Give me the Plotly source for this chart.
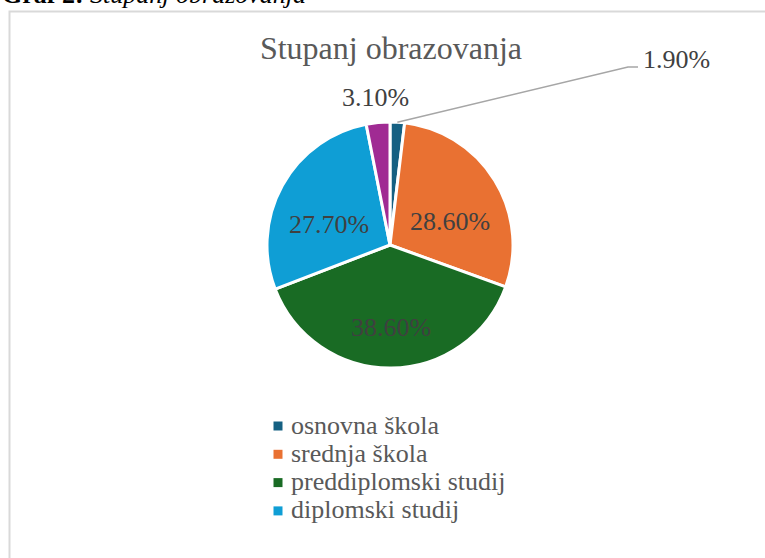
import math
import plotly.graph_objects as go

# ---- data ----
categories = ["osnovna škola", "srednja škola", "preddiplomski studij",
              "diplomski studij", "poslijediplomski studij"]
values = [1.9, 28.6, 38.6, 27.7, 3.1]
colors = ["#156082", "#E97132", "#196B24", "#0F9ED5", "#A02B93"]
legend_categories = categories[:4]          # only four appear in the legend
inside_labelled = [1, 2, 3]                 # slices labelled inside
title_text = "Stupanj obrazovanja"
caption_text = "<b>Graf 2:</b> <i>Stupanj obrazovanja</i>"

# ---- layout geometry (pixels) ----
W, H = 765, 558
cx, cy, R = 390, 245, 123


def px(x):
    return x / W


def py(y):
    return 1 - y / H


FONT = "Liberation Serif, Times New Roman, serif"
LABEL_FONT = dict(family=FONT, size=26, color="#404040")

fig = go.Figure()
fig.add_trace(go.Pie(
    labels=categories, values=values, sort=False, direction="clockwise",
    rotation=0,
    marker=dict(colors=colors, line=dict(color="white", width=3)),
    textinfo="none",
    domain=dict(x=[px(cx - R), px(cx + R)], y=[py(cy + R), py(cy - R)]),
    showlegend=False, hoverinfo="label+value",
))

total = sum(values)


def slice_mid_angle(idx):
    start = sum(values[:idx]) / total
    return 2 * math.pi * (start + values[idx] / 2 / total)


def label(idx, r, dy=0.0, **kw):
    th = slice_mid_angle(idx)
    fig.add_annotation(
        x=px(cx + r * math.sin(th)), y=py(cy - r * math.cos(th) + dy),
        xref="paper", yref="paper", xanchor="center", yanchor="middle",
        showarrow=False, text=f"{values[idx]:.2f}%", font=LABEL_FONT, **kw)


# inside labels
for idx in inside_labelled:
    label(idx, 70, dy=13)

# outside label for the last (purple) slice
label(4, R + 25)

# leader line + label for the smallest slice (osnovna škola)
theta = slice_mid_angle(0)
tip_x = cx + R * math.sin(theta)
tip_y = cy - R * math.cos(theta)
elbow_x, elbow_y, end_x = 628, 67, 638
fig.add_shape(
    type="path", xref="paper", yref="paper",
    path=f"M {px(tip_x)} {py(tip_y)} L {px(elbow_x)} {py(elbow_y)} L {px(end_x)} {py(elbow_y)}",
    line=dict(color="#A6A6A6", width=1.5),
)
fig.add_annotation(
    x=px(end_x + 3), y=py(59), xref="paper", yref="paper",
    xanchor="left", yanchor="middle", showarrow=False,
    text=f"{values[0]:.2f}%", font=LABEL_FONT,
)

# legend (four entries), drawn as square swatches + texts
leg_x, leg_y0, leg_dy, sw = 278, 426, 28.3, 9
for k, cat in enumerate(legend_categories):
    i = categories.index(cat)
    yc = leg_y0 + k * leg_dy
    fig.add_shape(
        type="rect", xref="paper", yref="paper",
        x0=px(leg_x - sw / 2), x1=px(leg_x + sw / 2),
        y0=py(yc + sw / 2), y1=py(yc - sw / 2),
        fillcolor=colors[i], line=dict(width=0),
    )
    fig.add_annotation(
        x=px(leg_x + 11), y=py(yc - 1), xref="paper", yref="paper",
        xanchor="left", yanchor="middle", showarrow=False, text=cat,
        font=dict(family=FONT, size=26, color="#595959"),
    )

# chart border
fig.add_shape(
    type="rect", xref="paper", yref="paper",
    x0=px(9.5), x1=1.05, y0=-0.05, y1=py(11.5),
    line=dict(color="#D9D9D9", width=2),
)

# document caption (cut at top)
fig.add_annotation(
    x=px(0), y=py(-6), xref="paper", yref="paper",
    xanchor="left", yanchor="middle", showarrow=False,
    text=caption_text,
    font=dict(family=FONT, size=26, color="#000000"),
)

fig.update_layout(
    width=W, height=H,
    margin=dict(l=0, r=0, t=0, b=0),
    paper_bgcolor="white", plot_bgcolor="white",
    title=dict(text=title_text, x=px(391), y=py(48), xanchor="center",
               yanchor="middle", xref="paper", yref="paper",
               font=dict(family=FONT, size=32, color="#595959")),
    showlegend=False,
)

fig.write_html("out.html", config={"displayModeBar": False},
               post_script="document.body.style.margin='0';")
